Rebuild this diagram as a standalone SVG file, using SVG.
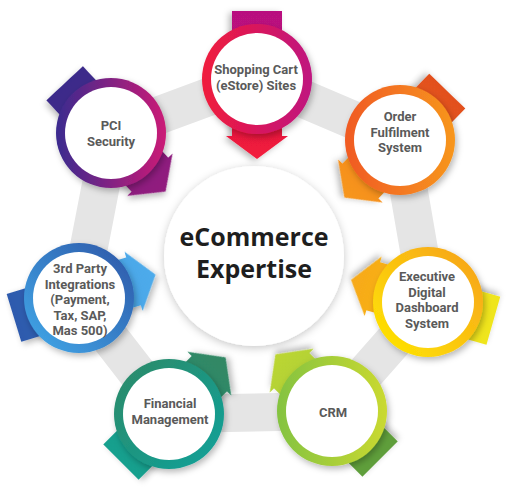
<svg xmlns="http://www.w3.org/2000/svg" width="515" height="494" viewBox="0 0 515 494">
<defs>
<style>
.lbl{font-family:Roboto,"Open Sans","DejaVu Sans",sans-serif;font-weight:700;font-size:13px;fill:#5a5a5a;text-anchor:middle}
.main{font-family:"Open Sans","DejaVu Sans",sans-serif;font-weight:700;font-size:25px;fill:#1e1e1e;text-anchor:middle}
.inner{fill:#ffffff}
.band{fill:none;stroke:#e5e5e5;stroke-width:38;stroke-linejoin:miter}
</style>
<filter id="sh" x="-40%" y="-40%" width="180%" height="180%">
<feDropShadow dx="2" dy="3" stdDeviation="3" flood-color="#000" flood-opacity="0.28"/>
</filter>
<filter id="shc" x="-30%" y="-30%" width="160%" height="160%">
<feDropShadow dx="0" dy="2" stdDeviation="4" flood-color="#000" flood-opacity="0.22"/>
</filter>
<path id="arw" d="M-68,-25 L57,-25 L57,-31 L80,0 L57,31 L57,25 L-68,25 Z"/>
<linearGradient id="r1" x1="0" y1="0" x2="1" y2="0"><stop offset="0" stop-color="#f01c3c"/><stop offset="1" stop-color="#bf137f"/></linearGradient>
<linearGradient id="r2" x1="0" y1="0" x2="1" y2="0"><stop offset="0" stop-color="#f05a24"/><stop offset="1" stop-color="#f7961e"/></linearGradient>
<linearGradient id="r3" x1="0" y1="1" x2="1" y2="0"><stop offset="0" stop-color="#ffe900"/><stop offset="1" stop-color="#f69f1d"/></linearGradient>
<linearGradient id="r4" x1="0" y1="0" x2="1" y2="0"><stop offset="0" stop-color="#84c341"/><stop offset="1" stop-color="#cad930"/></linearGradient>
<linearGradient id="r5" x1="0" y1="0" x2="1" y2="1"><stop offset="0" stop-color="#2e8966"/><stop offset="1" stop-color="#0ea29b"/></linearGradient>
<linearGradient id="r6" x1="0" y1="1" x2="1" y2="0"><stop offset="0" stop-color="#42aaea"/><stop offset="1" stop-color="#2c55a6"/></linearGradient>
<linearGradient id="r7" x1="0" y1="0" x2="1" y2="0"><stop offset="0" stop-color="#3a2b8f"/><stop offset="1" stop-color="#cb1a76"/></linearGradient>
<linearGradient id="a1" x1="0" y1="0" x2="1" y2="0"><stop offset="0" stop-color="#b8117f"/><stop offset="0.5" stop-color="#c4137a"/><stop offset="0.52" stop-color="#d8153f"/><stop offset="1" stop-color="#f31b3c"/></linearGradient>
<linearGradient id="a2" x1="0" y1="0" x2="1" y2="0"><stop offset="0" stop-color="#e2501f"/><stop offset="0.5" stop-color="#e85a20"/><stop offset="0.52" stop-color="#f4861f"/><stop offset="1" stop-color="#f7961d"/></linearGradient>
<linearGradient id="a3" x1="0" y1="0" x2="1" y2="0"><stop offset="0" stop-color="#efe51b"/><stop offset="0.5" stop-color="#f4e01a"/><stop offset="0.52" stop-color="#f9b716"/><stop offset="1" stop-color="#f7a91a"/></linearGradient>
<linearGradient id="a4" x1="0" y1="0" x2="1" y2="0"><stop offset="0" stop-color="#5e9e3a"/><stop offset="0.5" stop-color="#6ca93a"/><stop offset="0.52" stop-color="#a8cc36"/><stop offset="1" stop-color="#bcd633"/></linearGradient>
<linearGradient id="a5" x1="0" y1="0" x2="1" y2="0"><stop offset="0" stop-color="#13a08e"/><stop offset="0.5" stop-color="#1a9a86"/><stop offset="0.52" stop-color="#2c8c6c"/><stop offset="1" stop-color="#318764"/></linearGradient>
<linearGradient id="a6" x1="0" y1="0" x2="1" y2="0"><stop offset="0" stop-color="#2d5aad"/><stop offset="0.5" stop-color="#3366b5"/><stop offset="0.52" stop-color="#4aa2e4"/><stop offset="1" stop-color="#4dabeb"/></linearGradient>
<linearGradient id="a7" x1="0" y1="0" x2="1" y2="0"><stop offset="0" stop-color="#3b2a8a"/><stop offset="0.5" stop-color="#452a8a"/><stop offset="0.52" stop-color="#83207f"/><stop offset="1" stop-color="#921e7e"/></linearGradient>
</defs>

<g id="connectors">
<polygon class="band" points="257,79 400,140 428,302 332,411 169,414 79,298 111,133"/>
</g>

<g id="center">
<circle cx="254" cy="256" r="90" fill="#ffffff" filter="url(#shc)"/>
<text class="main" x="254" y="246">eCommerce</text>
<text class="main" x="254" y="278">Expertise</text>
</g>

<g id="node-shopping">
<use href="#arw" fill="url(#a1)" filter="url(#sh)" transform="translate(257,79) rotate(90)"/>
<circle cx="257" cy="79" r="55" fill="url(#r1)" filter="url(#sh)"/>
<circle class="inner" cx="257" cy="79" r="46"/>
<text class="lbl" x="256" y="74">Shopping Cart</text>
<text class="lbl" x="256" y="89.5">(eStore) Sites</text>
</g>

<g id="node-order">
<use href="#arw" fill="url(#a2)" filter="url(#sh)" transform="translate(400,140) rotate(134)"/>
<circle cx="400" cy="140" r="55" fill="url(#r2)" filter="url(#sh)"/>
<circle class="inner" cx="400" cy="140" r="46"/>
<text class="lbl" x="400" y="121">Order</text>
<text class="lbl" x="400" y="136.5">Fulfilment</text>
<text class="lbl" x="400" y="152">System</text>
</g>

<g id="node-executive">
<use href="#arw" fill="url(#a3)" filter="url(#sh)" transform="translate(428,302) rotate(196)"/>
<circle cx="428" cy="302" r="55" fill="url(#r3)" filter="url(#sh)"/>
<circle class="inner" cx="428" cy="302" r="46"/>
<text class="lbl" x="427" y="281">Executive</text>
<text class="lbl" x="427" y="296.5">Digital</text>
<text class="lbl" x="427" y="312">Dashboard</text>
<text class="lbl" x="427" y="327.5">System</text>
</g>

<g id="node-crm">
<use href="#arw" fill="url(#a4)" filter="url(#sh)" transform="translate(332,411) rotate(225)"/>
<circle cx="332" cy="411" r="55" fill="url(#r4)" filter="url(#sh)"/>
<circle class="inner" cx="332" cy="411" r="46"/>
<text class="lbl" x="333" y="417">CRM</text>
</g>

<g id="node-financial">
<use href="#arw" fill="url(#a5)" filter="url(#sh)" transform="translate(169,414) rotate(315)"/>
<circle cx="169" cy="414" r="55" fill="url(#r5)" filter="url(#sh)"/>
<circle class="inner" cx="169" cy="414" r="46"/>
<text class="lbl" x="170" y="408">Financial</text>
<text class="lbl" x="170" y="423.5">Management</text>
</g>

<g id="node-3rdparty">
<use href="#arw" fill="url(#a6)" filter="url(#sh)" transform="translate(79,298) rotate(-17)"/>
<circle cx="79" cy="298" r="55" fill="url(#r6)" filter="url(#sh)"/>
<circle class="inner" cx="79" cy="298" r="46"/>
<text class="lbl" x="80" y="273">3rd Party</text>
<text class="lbl" x="80" y="288.5">Integrations</text>
<text class="lbl" x="80" y="304">(Payment,</text>
<text class="lbl" x="80" y="319.5">Tax, SAP,</text>
<text class="lbl" x="80" y="335">Mas 500)</text>
</g>

<g id="node-pci">
<use href="#arw" fill="url(#a7)" filter="url(#sh)" transform="translate(111,133) rotate(47)"/>
<circle cx="111" cy="133" r="55" fill="url(#r7)" filter="url(#sh)"/>
<circle class="inner" cx="111" cy="133" r="46"/>
<text class="lbl" x="111" y="130">PCI</text>
<text class="lbl" x="111" y="145.5">Security</text>
</g>
</svg>
